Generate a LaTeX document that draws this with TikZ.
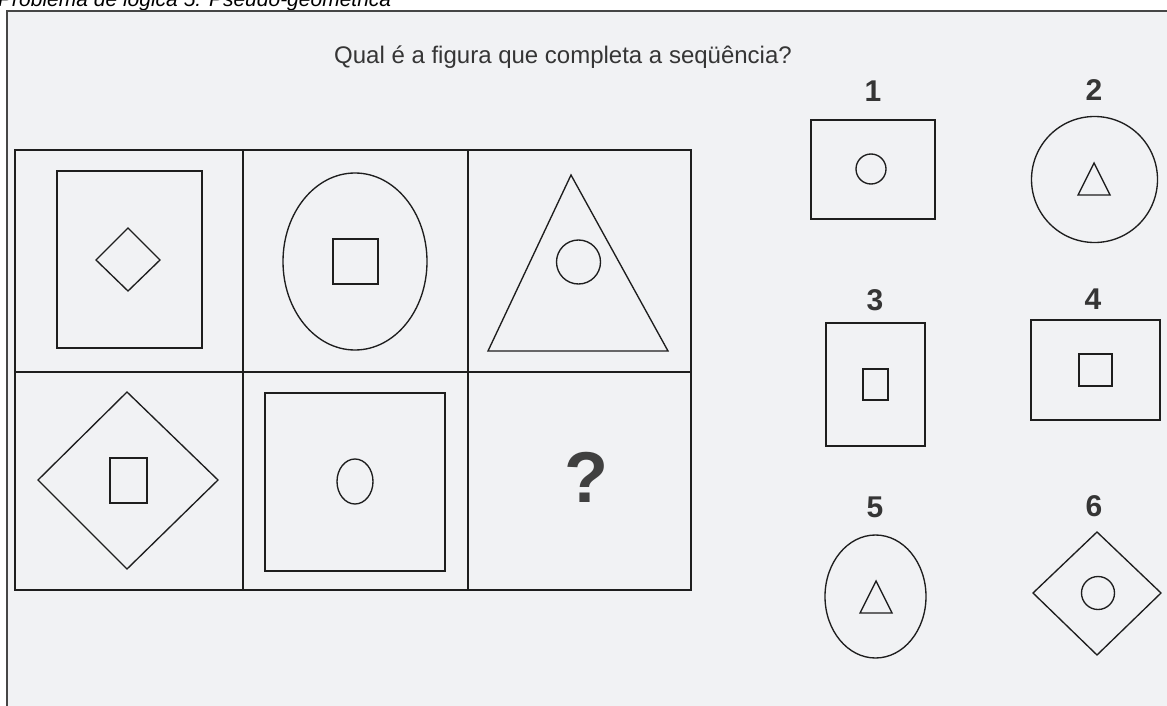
\documentclass[tikz,border=0pt]{standalone}
\usepackage{fontspec}
\setmainfont{Liberation Sans}
\definecolor{paper}{RGB}{241,242,244}
\definecolor{ink}{RGB}{30,30,30}
\definecolor{frameline}{RGB}{70,70,70}
\begin{document}
\begin{tikzpicture}[x=1pt,y=-1pt,
  figline/.style={draw=ink, line width=1.35pt, line join=miter},
  gridline/.style={draw=ink, line width=1.5pt},
  numlabel/.style={font=\fontsize{30}{30}\selectfont\bfseries, text=ink!90, inner sep=0, anchor=base},
]
\useasboundingbox (0,0) rectangle (1167,706);
\clip (0,0) rectangle (1167,706);
\fill[white] (0,0) rectangle (1167,706);
\fill[paper] (7,11) rectangle (1167,706);
% heading, cut off at the top edge as in the reference
\node[anchor=base west, font=\fontsize{21}{21}\selectfont\itshape, inner sep=0] (head) at (-2,7) {Problema de lógica 5: Pseudo-geométrica};
\draw[line width=2pt, frameline] (7,706) -- (7,11) -- (1167,11);
% title
\node[anchor=base west, font=\fontsize{24}{24}\selectfont, text=ink!90, inner sep=0] (title) at (334,64) {Qual é a figura que completa a seqüência?};
% grid
\draw[gridline] (15,150) rectangle (691,590);
\draw[gridline] (243,150) -- (243,590);
\draw[gridline] (468,150) -- (468,590);
\draw[gridline] (15,372) -- (691,372);
% cell 1
\draw[figline] (57,171) rectangle (202,348);
\draw[figline] (128,228) -- (160,260) -- (128,291) -- (96,260) -- cycle;
% cell 2
\draw[figline] (355,261.5) ellipse [x radius=72, y radius=88.5];
\draw[figline] (333,239) rectangle (378,284);
% cell 3
\draw[figline] (571,175) -- (668,351) -- (488,351) -- cycle;
\draw[figline] (578.5,262) circle [radius=22];
% cell 4
\draw[figline] (127,392) -- (218,480) -- (127,569) -- (38,480) -- cycle;
\draw[figline] (110,458) rectangle (147,503);
% cell 5
\draw[figline] (265,393) rectangle (445,571);
\draw[figline] (355,481.5) ellipse [x radius=18, y radius=22.5];
% cell 6
\node[anchor=base, font=\fontsize{72}{72}\selectfont\bfseries, text=ink!85, inner sep=0] (qmark) at (586,502) {?};
% option 1
\node[numlabel] (n1) at (873,102) {1};
\draw[figline] (811,120) rectangle (935,219);
\draw[figline] (871,169) circle [radius=15];
% option 2
\node[numlabel] (n2) at (1094,101) {2};
\draw[figline] (1094.5,179.5) circle [radius=63];
\draw[figline] (1094,163) -- (1110,195) -- (1078,195) -- cycle;
% option 3
\node[numlabel] (n3) at (875,310) {3};
\draw[figline] (826,323) rectangle (925,446);
\draw[figline] (863,369) rectangle (888,400);
% option 4
\node[numlabel] (n4) at (1093,309) {4};
\draw[figline] (1031,320) rectangle (1160,420);
\draw[figline] (1079,354) rectangle (1112,386);
% option 5
\node[numlabel] (n5) at (875,517) {5};
\draw[figline] (875.5,596.5) ellipse [x radius=50.5, y radius=61.5];
\draw[figline] (876,581) -- (892,613) -- (860,613) -- cycle;
% option 6
\node[numlabel] (n6) at (1094,516) {6};
\draw[figline] (1097,532) -- (1161,593) -- (1097,655) -- (1033,593) -- cycle;
\draw[figline] (1098,593) circle [radius=16.5];
\end{tikzpicture}
\end{document}
